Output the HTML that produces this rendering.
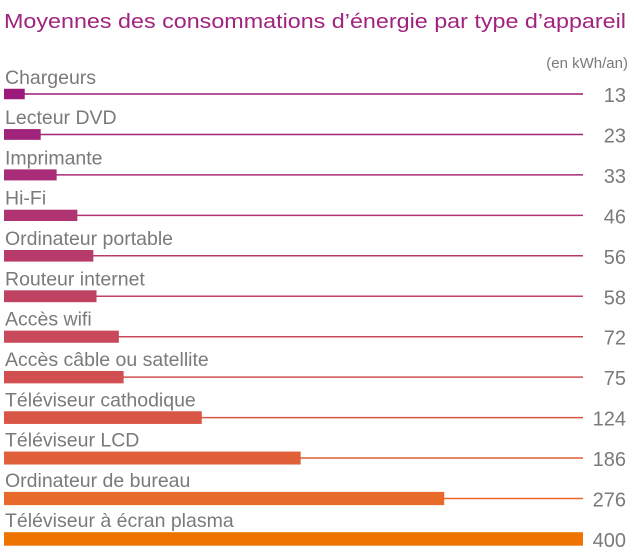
<!DOCTYPE html>
<html><head><meta charset="utf-8"><style>
html,body{margin:0;padding:0;background:#fff;}
svg{display:block;font-family:"Liberation Sans",sans-serif;}
</style></head><body>
<svg id="chart" width="634" height="559">
<text x="4" y="28" font-size="20" fill="#a0237f" textLength="622" lengthAdjust="spacingAndGlyphs">Moyennes des consommations d’énergie par type d’appareil</text>
<text x="628" y="68" font-size="15" fill="#7a7a7a" text-anchor="end">(en kWh/an)</text>
<g id="rows"></g>
</svg>
<script>
const categories = ["Chargeurs","Lecteur DVD","Imprimante","Hi-Fi","Ordinateur portable","Routeur internet","Accès wifi","Accès câble ou satellite","Téléviseur cathodique","Téléviseur LCD","Ordinateur de bureau","Téléviseur à écran plasma"];
const values = [13,23,33,46,56,58,72,75,124,186,276,400];
const valueLabels = ["13","23","33","46","56","58","72","75","124","186","276","400"];
const colors = ["#9b1a7c","#a0247b","#a82c77","#b03472","#b83a6a","#c04262","#c8495a","#d14f50","#d85645","#e0603a","#e86a2a","#ef7300"];
const x0 = 4, x1 = 583, pxPerUnit = 1.595;
function xs(v){ return Math.min(x1, x0 + pxPerUnit * v); }
function rowY(i){ return 94 + i * 40.45; }
const NS = "http://www.w3.org/2000/svg";
const g = document.getElementById("rows");
categories.forEach((c, i) => {
  const cy = rowY(i);
  const h = 10.5 + 3 * i / (categories.length - 1);
  const col = colors[i];
  const lab = document.createElementNS(NS, "text");
  
  
  lab.setAttribute("x", 5); lab.setAttribute("y", cy - h/2 - 5);
  lab.setAttribute("font-size", "19.5"); lab.setAttribute("fill", "#7a7a7a");
  lab.textContent = c; g.appendChild(lab);
  const line = document.createElementNS(NS, "line");
  
  
  line.setAttribute("x1", x0); line.setAttribute("x2", x1);
  line.setAttribute("y1", cy); line.setAttribute("y2", cy);
  line.setAttribute("stroke", col); line.setAttribute("stroke-width", "1.5");
  g.appendChild(line);
  const bar = document.createElementNS(NS, "rect");
  
  
  bar.setAttribute("x", x0); bar.setAttribute("y", cy - h/2);
  bar.setAttribute("width", xs(values[i]) - x0); bar.setAttribute("height", h);
  bar.setAttribute("fill", col); g.appendChild(bar);
  const vt = document.createElementNS(NS, "text");
  
  
  vt.setAttribute("x", 626); vt.setAttribute("y", cy + 8);
  vt.setAttribute("font-size", "20"); vt.setAttribute("fill", "#7a7a7a");
  vt.setAttribute("text-anchor", "end");
  vt.textContent = valueLabels[i]; g.appendChild(vt);
});
</script>
</body></html>
